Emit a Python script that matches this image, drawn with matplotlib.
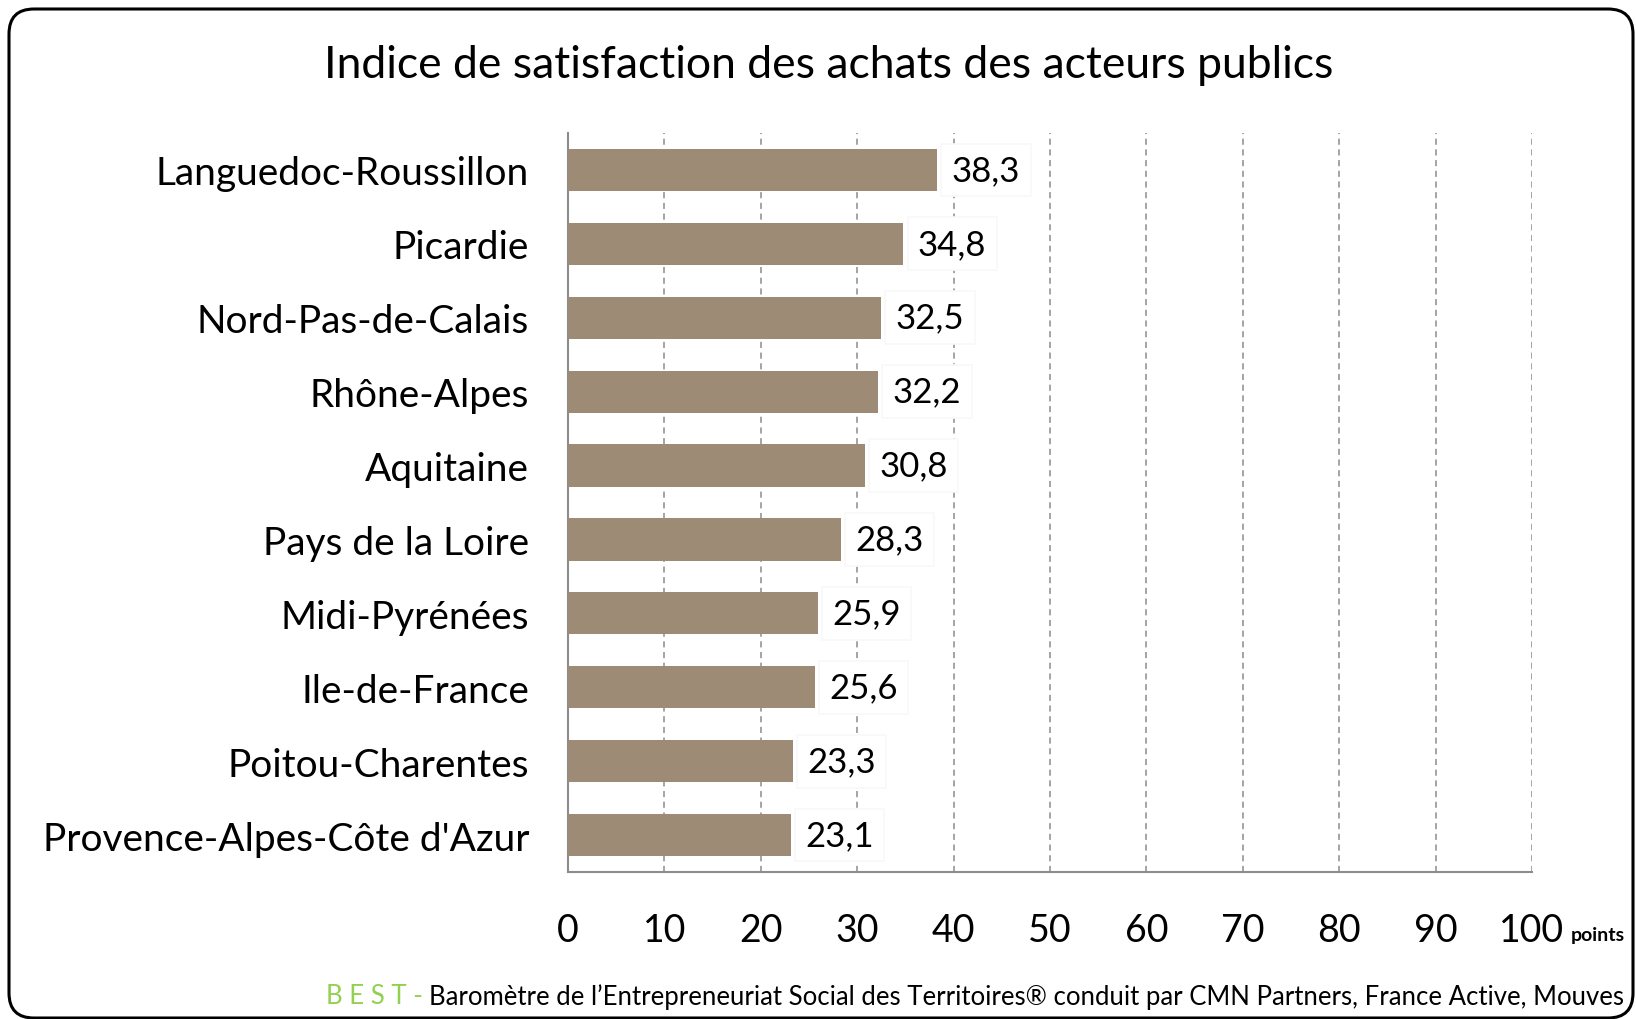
import matplotlib
matplotlib.use("Agg")
import matplotlib.pyplot as plt
from matplotlib.patches import FancyBboxPatch

# données
regions = ["Languedoc-Roussillon", "Picardie", "Nord-Pas-de-Calais", "Rhône-Alpes",
           "Aquitaine", "Pays de la Loire", "Midi-Pyrénées", "Ile-de-France",
           "Poitou-Charentes", "Provence-Alpes-Côte d'Azur"]
scores = [38.3, 34.8, 32.5, 32.2, 30.8, 28.3, 25.9, 25.6, 23.3, 23.1]
xticks = [0, 10, 20, 30, 40, 50, 60, 70, 80, 90, 100]

title = "Indice de satisfaction des achats des acteurs publics"
source = "Baromètre de l\u2019Entrepreneuriat Social des Territoires\u00ae conduit par CMN Partners, France Active, Mouves"

bar_color = "#9d8b75"
plt.rcParams["font.family"] = ["Lato", "DejaVu Sans"]

W, H = 1636, 1020
fig = plt.figure(figsize=(W / 100, H / 100), dpi=100)

# cadre arrondi
frame = FancyBboxPatch((0.09 + 0.25, 0.01 + 0.25), 16.24 - 0.5, 10.09 - 0.5,
                       boxstyle="round,pad=0.25", transform=fig.dpi_scale_trans,
                       fill=False, ec="black", lw=2.2, clip_on=False)
fig.patches.append(frame)

ax = fig.add_axes([568 / W, 1 - 873 / H, (1532 - 568) / W, (873 - 134) / H])

ypos = list(range(len(regions)))
ax.barh(ypos, scores, height=0.57, color=bar_color, zorder=3)
ax.set_ylim(len(regions) - 0.5, -0.5)
ax.set_xlim(0, 100)
ax.set_xticks(xticks)
ax.set_yticks(ypos)
ax.set_yticklabels(regions, fontsize=28)
ax.set_xticklabels([str(t) for t in xticks], fontsize=27)
ax.tick_params(axis="x", length=0, pad=29)
ax.tick_params(axis="y", length=0, pad=28)

for s in ["top", "right"]:
    ax.spines[s].set_visible(False)
for s in ["left", "bottom"]:
    ax.spines[s].set_color("#8c8c8c")
    ax.spines[s].set_linewidth(1.5)

ax.grid(axis="x", linestyle=(0, (4, 3)), color="#8c8c8c", lw=1.1, zorder=1)
ax.set_axisbelow(True)

# étiquettes de valeurs
for y, v in zip(ypos, scores):
    lbl = f"{v:.1f}".replace(".", ",")
    ax.text(v + 1.5, y + 0.0, lbl, va="center", ha="left", fontsize=25, zorder=5,
            bbox=dict(boxstyle="square,pad=0.3", fc="white", ec="#f8f8f8", lw=1.2))

fig.text(1571 / W, 1 - 936 / H, "points", fontsize=14,
         fontweight="bold", ha="left", va="center")

fig.text(829 / W, 1 - 65 / H, title, ha="center", va="center", fontsize=32)

src_t = fig.text(1624 / W, 1 - 997 / H, source, ha="right", va="center", fontsize=18.5)
# préfixe vert
fig.canvas.draw()
bb = src_t.get_window_extent()
fig.text(bb.x0 / W, 1 - 997 / H, "B E S T - ", ha="right", va="center",
         fontsize=18.5, color="#92d050")

fig.savefig("out.png", dpi=100)
